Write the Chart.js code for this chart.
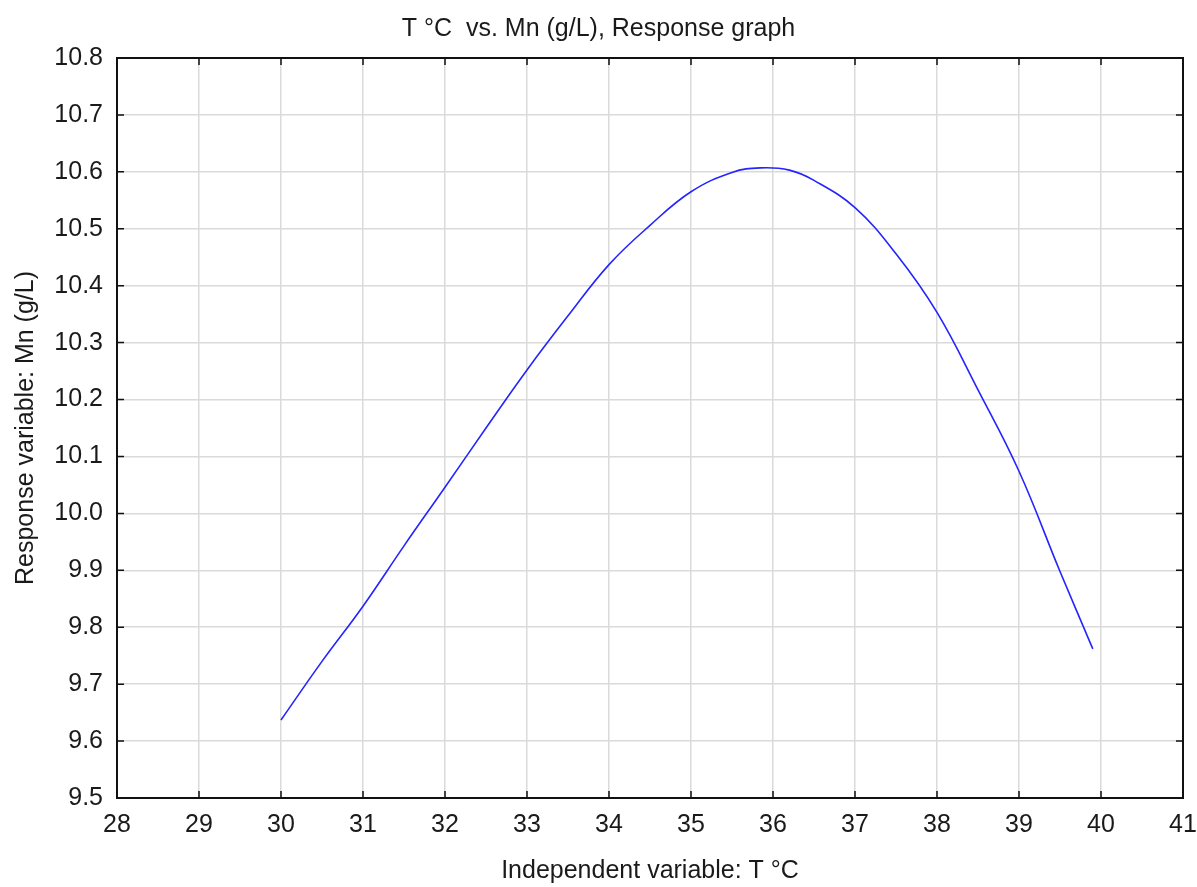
<!DOCTYPE html>
<html>
<head>
<meta charset="utf-8">
<script src="https://cdn.jsdelivr.net/npm/chart.js@4"></script>
<style>
  html, body { margin: 0; padding: 0; background: #fff; }
  #wrap { width: 1197px; height: 887px; }
</style>
</head>
<body>
<div id="wrap"><canvas id="chart"></canvas></div>
<script>
const temps = [30, 30.5, 31, 31.5, 32, 32.5, 33, 33.5, 34, 34.5, 35, 35.5, 35.85,
  36.2, 36.5, 37, 37.5, 38, 38.5, 39, 39.5, 39.9];
const mn = [9.637, 9.740, 9.837, 9.943, 10.046, 10.150, 10.252, 10.347, 10.437,
  10.506, 10.565, 10.599, 10.607, 10.603, 10.585, 10.537, 10.456, 10.353, 10.217,
  10.074, 9.898, 9.762];
const xTicks = [28, 29, 30, 31, 32, 33, 34, 35, 36, 37, 38, 39, 40, 41];
const yTicks = [9.5, 9.6, 9.7, 9.8, 9.9, 10.0, 10.1, 10.2, 10.3, 10.4, 10.5, 10.6, 10.7, 10.8];

const font = "'Liberation Sans', Arial, sans-serif";
const ink = "#1a1a1a";

// frame + inward tick marks on all four sides
const frame = {
  id: "frame",
  afterDatasetsDraw(chart) {
    const { ctx, chartArea: a, scales } = chart;
    ctx.save();
    ctx.strokeStyle = "#111";
    ctx.lineWidth = 1.5;
    ctx.beginPath();
    xTicks.forEach(v => {
      const px = scales.x.getPixelForValue(v);
      ctx.moveTo(px, a.bottom); ctx.lineTo(px, a.bottom - 7);
      ctx.moveTo(px, a.top); ctx.lineTo(px, a.top + 7);
    });
    yTicks.forEach(v => {
      const py = scales.y.getPixelForValue(v);
      ctx.moveTo(a.left, py); ctx.lineTo(a.left + 7, py);
      ctx.moveTo(a.right, py); ctx.lineTo(a.right - 7, py);
    });
    ctx.stroke();
    ctx.lineWidth = 2;
    ctx.strokeRect(a.left, a.top, a.right - a.left, a.bottom - a.top);
    ctx.restore();
  }
};

new Chart(document.getElementById("chart"), {
  type: "scatter",
  data: {
    datasets: [{
      data: temps.map((t, i) => ({ x: t, y: mn[i] })),
      showLine: true,
      borderColor: "#2424ff",
      borderWidth: 1.6,
      pointRadius: 0,
      tension: 0.4,
      fill: false
    }]
  },
  options: {
    responsive: true,
    maintainAspectRatio: false,
    animation: false,
    layout: { padding: 0 },
    plugins: {
      legend: { display: false },
      tooltip: { enabled: false },
      title: {
        display: true,
        text: "T °C  vs. Mn (g/L), Response graph",
        color: ink,
        font: { family: font, size: 25, weight: "normal" },
        padding: { top: 14, bottom: 14 }
      }
    },
    scales: {
      x: {
        type: "linear",
        min: 28,
        max: 41,
        afterBuildTicks: s => { s.ticks = xTicks.map(v => ({ value: v })); },
        afterFit: s => { s.height = 89; s.paddingLeft = 0; s.paddingRight = 14; },
        grid: { color: "#dadada", lineWidth: 1.5, drawTicks: false },
        border: { display: false },
        ticks: {
          color: ink,
          padding: 12,
          font: { family: font, size: 25 },
          callback: v => String(v)
        },
        title: {
          display: true,
          text: "Independent variable: T °C",
          color: ink,
          font: { family: font, size: 25 },
          padding: { top: 0, bottom: 1 }
        }
      },
      y: {
        min: 9.5,
        max: 10.8,
        afterBuildTicks: s => { s.ticks = yTicks.map(v => ({ value: v })); },
        afterFit: s => { s.width = 117; s.paddingTop = 0; s.paddingBottom = 0; },
        grid: { color: "#dadada", lineWidth: 1.5, drawTicks: false },
        border: { display: false },
        ticks: {
          color: ink,
          padding: 14,
          font: { family: font, size: 25 },
          callback: v => v.toFixed(1)
        },
        title: {
          display: true,
          text: "Response variable: Mn (g/L)",
          color: ink,
          font: { family: font, size: 25 },
          padding: { top: 11, bottom: 0 }
        }
      }
    }
  },
  plugins: [frame]
});
</script>
</body>
</html>
